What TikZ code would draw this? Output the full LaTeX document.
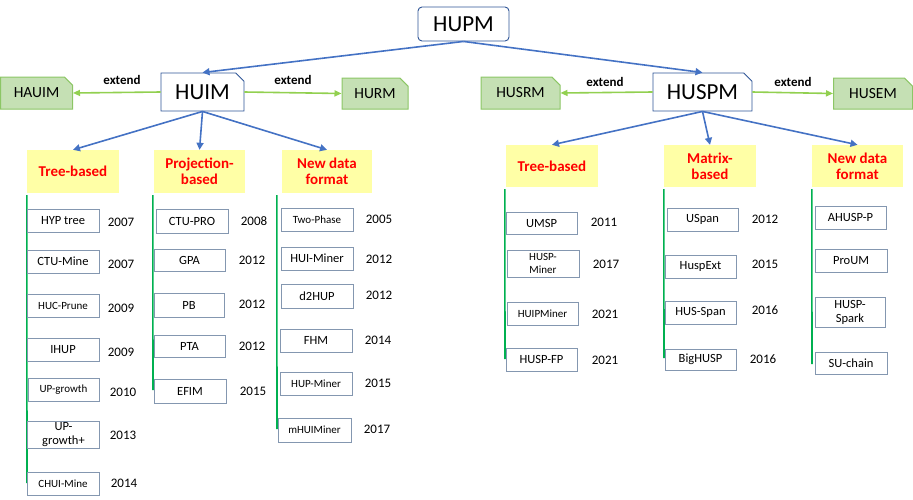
\documentclass[tikz,border=0pt]{standalone}
\usepackage{fontspec}
\setmainfont{Carlito}
\usetikzlibrary{shapes.misc,arrows.meta}
\definecolor{rootblue}{HTML}{2F5597}
\definecolor{arrowblue}{HTML}{4472C4}
\definecolor{extfill}{HTML}{C5E0B4}
\definecolor{extdraw}{HTML}{8CC665}
\definecolor{extarrowc}{HTML}{92D050}
\definecolor{catyellow}{HTML}{FFFFA6}
\definecolor{timegreen}{HTML}{00B050}
\definecolor{algodraw}{HTML}{8497B0}

\tikzset{
  root/.style={draw=rootblue, fill=white, rounded corners=4pt, line width=0.9pt, inner sep=0pt, font=\fontsize{23}{26}\selectfont},
  topic/.style={chamfered rectangle, chamfered rectangle corners=north east, chamfered rectangle xsep=5pt, draw=rootblue, fill=white, line width=0.9pt, inner sep=0pt, font=\fontsize{23}{26}\selectfont},
  extbox/.style={chamfered rectangle, chamfered rectangle corners=north east, chamfered rectangle xsep=5pt, draw=extdraw, fill=extfill, line width=1pt, inner sep=0pt, font=\fontsize{15.5}{17}\selectfont},
  extlabel/.style={font=\bfseries\fontsize{13}{14}\selectfont},
  catbox/.style={fill=catyellow, text=red, align=center, inner sep=0pt, font=\bfseries\fontsize{15}{16}\selectfont},
  algo/.style={draw=algodraw, line width=0.8pt, align=center, inner sep=0pt, minimum width=72pt, minimum height=23pt, font=\fontsize{12.5}{14}\selectfont},
  algosmall/.style={algo, font=\fontsize{11}{13}\selectfont},
  year/.style={font=\fontsize{13}{14}\selectfont},
  toarrow/.style={arrowblue, line width=1.6pt, -{Triangle[length=7pt,width=7pt]}},
  extarrow/.style={extarrowc, line width=1.6pt, -{Triangle[length=7pt,width=6pt]}},
  timeline/.style={timegreen, line width=1.6pt}
}

\begin{document}
\begin{tikzpicture}[x=1pt,y=-1pt]
\useasboundingbox (0,0) rectangle (913,499);

% root and the two topics
\node[root, minimum width=91pt, minimum height=34pt] (hupm) at (463.5,24) {HUPM};
\node[topic, minimum width=83pt, minimum height=38pt] (huim) at (202.5,92) {HUIM};
\node[topic, minimum width=99pt, minimum height=38pt] (huspm) at (702.5,92) {HUSPM};

% extensions
\node[extbox, minimum width=72pt, minimum height=32pt] (hauim) at (36.5,93) {HAUIM};
\node[extbox, minimum width=66pt, minimum height=31pt] (hurm) at (375,93.5) {HURM};
\node[extbox, minimum width=79pt, minimum height=32pt] (husrm) at (520.5,93) {HUSRM};
\node[extbox, minimum width=79pt, minimum height=31pt] (husem) at (873,93.5) {HUSEM};
\node[extlabel] (ext1) at (122,80) {extend};
\node[extlabel] (ext2) at (293,80) {extend};
\node[extlabel] (ext3) at (605,82) {extend};
\node[extlabel] (ext4) at (793,82) {extend};

% categories
\node[catbox, minimum width=92pt, minimum height=43pt] (tree1) at (73,171.5) {Tree-based};
\node[catbox, minimum width=91pt, minimum height=43pt] (proj) at (199.5,171.5) {Projection-\\based};
\node[catbox, minimum width=90pt, minimum height=43pt] (newfmt1) at (327,171.5) {New data\\format};
\node[catbox, minimum width=92pt, minimum height=42pt] (tree2) at (552,166) {Tree-based};
\node[catbox, minimum width=92pt, minimum height=42pt] (matrix) at (710,166) {Matrix-\\based};
\node[catbox, minimum width=91pt, minimum height=42pt] (newfmt2) at (857.5,166) {New data\\format};

% arrows
\draw[toarrow] (hupm.south) -- (huim.north);
\draw[toarrow] (hupm.south) -- (huspm.north);
\draw[toarrow] (huim.south) -- (tree1.north);
\draw[toarrow] (huim.south) -- (proj.north);
\draw[toarrow] (huim.south) -- (newfmt1.north);
\draw[toarrow] (huspm.south) -- (tree2.north);
\draw[toarrow] (huspm.south) -- (matrix.north);
\draw[toarrow] (huspm.south) -- (newfmt2.north);
\draw[extarrow] (huim.west) -- (hauim.east);
\draw[extarrow] (huim.east) -- (hurm.west);
\draw[extarrow] (huspm.west) -- (husrm.east);
\draw[extarrow] (huspm.east) -- (husem.west);

% time lines
\coordinate (end1) at (27,483);
\coordinate (end2) at (153,390);
\coordinate (end3) at (277,429);
\coordinate (end4) at (505,359);
\coordinate (end5) at (664,358);
\coordinate (end6) at (812,364);
\draw[timeline] ([yshift=-2pt]tree1.south west) -- (end1);
\draw[timeline] ([xshift=-1pt,yshift=-2pt]proj.south west) -- (end2);
\draw[timeline] ([xshift=-5pt,yshift=-2pt]newfmt1.south west) -- (end3);
\draw[timeline] ([xshift=-1pt,yshift=-2pt]tree2.south west) -- (end4);
\draw[timeline] ([yshift=-2pt]matrix.south west) -- (end5);
\draw[timeline] ([yshift=-2pt]newfmt2.south west) -- (end6);

% HUIM, tree-based
\node[algo] (hyp) at (63,220.5) {HYP tree};
\node[algo] (ctumine) at (63,261.5) {CTU-Mine};
\node[algosmall] (hucprune) at (63,305.5) {HUC-Prune};
\node[algo] (ihup) at (63,349.5) {IHUP};
\node[algosmall, minimum width=71pt] (upgrowth) at (63.5,389.5) {UP-growth};
\node[algo, minimum height=27pt] (upgrowthp) at (63.5,434.5) {UP-\\growth+};
\node[algosmall] (chuimine) at (63,483.5) {CHUI-Mine};
\node[year] at (121,222) {2007};
\node[year] at (121,264) {2007};
\node[year] at (121,308) {2009};
\node[year] at (121,352) {2009};
\node[year] at (123,392) {2010};
\node[year] at (123,435) {2013};
\node[year] at (124,483) {2014};

% HUIM, projection-based
\node[algo, minimum height=24pt] (ctupro) at (192,221) {CTU-PRO};
\node[algo, minimum width=71pt, minimum height=22pt] (gpa) at (189.5,260) {GPA};
\node[algo, minimum width=70pt, minimum height=24pt] (pb) at (189,305) {PB};
\node[algo, minimum width=71pt, minimum height=22pt] (pta) at (189.5,346) {PTA};
\node[algo, minimum height=24pt] (efim) at (190,391) {EFIM};
\node[year] at (254,221) {2008};
\node[year] at (252,260) {2012};
\node[year] at (252,304) {2012};
\node[year] at (252,346) {2012};
\node[year] at (253,391) {2015};

% HUIM, new data format
\node[algosmall] (twophase) at (317,219.5) {Two-Phase};
\node[algo] (huiminer) at (317,258.5) {HUI-Miner};
\node[algo, minimum height=24pt] (dtwohup) at (317,296) {d2HUP};
\node[algo] (fhm) at (316,340.5) {FHM};
\node[algosmall] (hupminer) at (316,383.5) {HUP-Miner};
\node[algosmall, minimum width=73pt, minimum height=24pt] (mhuiminer) at (314.5,430) {mHUIMiner};
\node[year] at (379,219) {2005};
\node[year] at (379,259) {2012};
\node[year] at (379,295) {2012};
\node[year] at (378,340) {2014};
\node[year] at (378,383) {2015};
\node[year] at (377,429) {2017};

% HUSPM, tree-based
\node[algo, minimum width=71pt, minimum height=22pt] (umsp) at (541.5,223) {UMSP};
\node[algosmall, minimum height=27pt] (husp-miner) at (543,263.5) {HUSP-\\Miner};
\node[algosmall, minimum width=71pt] (huipminer) at (542.5,313.5) {HUIPMiner};
\node[algo, minimum width=71pt] (huspfp) at (541.5,359.5) {HUSP-FP};
\node[year] at (604,222) {2011};
\node[year] at (606,264) {2017};
\node[year] at (605,314) {2021};
\node[year] at (605,360) {2021};

% HUSPM, matrix-based
\node[algo, minimum width=71pt] (uspan) at (702.5,219.5) {USpan};
\node[algo, minimum width=71pt] (huspext) at (700.5,266.5) {HuspExt};
\node[algo, minimum width=71pt] (husspan) at (700.5,312.5) {HUS-Span};
\node[algo, minimum width=71pt, minimum height=21pt] (bighusp) at (700.5,359.5) {BigHUSP};
\node[year] at (765,219) {2012};
\node[year] at (765,264) {2015};
\node[year] at (765,310) {2016};
\node[year] at (763,359) {2016};

% HUSPM, new data format
\node[algo, minimum width=71pt] (ahuspp) at (850.5,217.5) {AHUSP-P};
\node[algo] (proum) at (851,260.5) {ProUM};
\node[algo, minimum width=70pt, minimum height=30pt] (huspspark) at (850,312) {HUSP-\\Spark};
\node[algo, minimum height=22pt] (suchain) at (851,363) {SU-chain};
\end{tikzpicture}
\end{document}
